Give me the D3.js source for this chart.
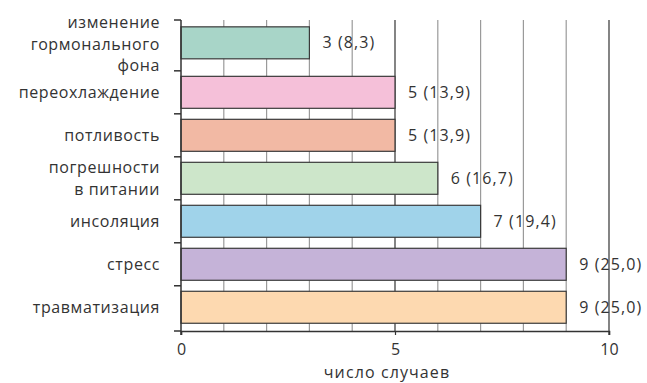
<!DOCTYPE html>
<html>
<head>
<meta charset="utf-8">
<script src="https://cdn.jsdelivr.net/npm/d3@7"></script>
<style>
  body { margin: 0; background: #fff; }
  text { font-family: "Open Sans", sans-serif; fill: #333; }
</style>
</head>
<body>
<script>
// categories from top to bottom
const categories = [
  ['изменение', 'гормонального', 'фона'],
  ['переохлаждение'],
  ['потливость'],
  ['погрешности', 'в питании'],
  ['инсоляция'],
  ['стресс'],
  ['травматизация']
]
const counts = [3, 5, 5, 6, 7, 9, 9]
const percents = ['8,3', '13,9', '13,9', '16,7', '19,4', '25,0', '25,0']
const colors = ['#a8d5c8', '#f5c0d9', '#f2b9a4', '#cde6ca', '#a0d3ea', '#c5b3d8', '#fdd9b0']
const xTicks = [0, 5, 10]
const xTitle = 'число случаев'

const width = 647
const height = 383
const plotTop = 20
const plotBottom = 331
// the top bar sits a bit higher, next to its three-line label
const firstShift = 6.5

const svg = d3.select('body').append('svg')
  .attr('width', width)
  .attr('height', height)

const x = d3.scaleLinear().domain([0, 10]).range([181, 609])
const y = d3.scaleBand()
  .domain(d3.range(categories.length))
  .range([25.6, plotBottom])
  .paddingInner(0.256)
  .paddingOuter(0.18)

const barY = i => y(i) - (i === 0 ? firstShift : 0)
const barMid = i => barY(i) + y.bandwidth() / 2

// grey grid lines
svg.append('g').selectAll('line')
  .data(d3.range(1, 10).filter(v => v !== 5))
  .enter().append('line')
  .attr('x1', d => x(d)).attr('x2', d => x(d))
  .attr('y1', plotTop).attr('y2', plotBottom)
  .attr('stroke', '#9a9a9a')
  .attr('stroke-width', 1.2)

svg.append('line')
  .attr('x1', x(5)).attr('x2', x(5))
  .attr('y1', plotTop).attr('y2', plotBottom)
  .attr('stroke', '#333')
  .attr('stroke-width', 1.2)

// bars
svg.append('g').selectAll('rect')
  .data(counts)
  .enter().append('rect')
  .attr('x', x(0))
  .attr('y', (d, i) => barY(i))
  .attr('width', d => x(d) - x(0))
  .attr('height', y.bandwidth())
  .attr('fill', (d, i) => colors[i])
  .attr('stroke', '#3a3a3a')
  .attr('stroke-width', 1.2)

// right border line at 10
svg.append('line')
  .attr('x1', x(10)).attr('x2', x(10))
  .attr('y1', plotTop).attr('y2', plotBottom + 4)
  .attr('stroke', '#333')
  .attr('stroke-width', 1.2)

// value labels
svg.append('g').selectAll('text')
  .data(counts)
  .enter().append('text')
  .attr('x', d => x(d) + 13)
  .attr('y', (d, i) => barMid(i))
  .attr('dy', '0.35em')
  .attr('font-size', 16)
  .attr('letter-spacing', 1.1)
  .text((d, i) => `${d} (${percents[i]})`)

// left axis with band boundary ticks
const bounds = [plotTop].concat(d3.range(1, categories.length).map(i => y(i) - y.step() * y.paddingInner() / 2), [plotBottom])
svg.append('line')
  .attr('x1', x(0)).attr('x2', x(0))
  .attr('y1', plotTop).attr('y2', plotBottom + 4)
  .attr('stroke', '#333')
  .attr('stroke-width', 1.5)
svg.append('g').selectAll('line')
  .data(bounds)
  .enter().append('line')
  .attr('x1', x(0) - 7).attr('x2', x(0))
  .attr('y1', d => d).attr('y2', d => d)
  .attr('stroke', '#333')
  .attr('stroke-width', 1.5)

// bottom axis
const xAxis = svg.append('g')
  .attr('transform', `translate(0,${plotBottom})`)
  .call(d3.axisBottom(x).tickValues(xTicks).tickSize(4).tickPadding(9))
xAxis.select('.domain').attr('stroke', '#333').attr('stroke-width', 1.5)
xAxis.selectAll('.tick line').attr('stroke', '#333').attr('stroke-width', 1.2)
xAxis.selectAll('.tick text')
  .attr('font-family', '"Open Sans", sans-serif')
  .attr('font-size', 16)
  .attr('fill', '#333')

svg.append('text')
  .attr('x', 387)
  .attr('y', 378)
  .attr('text-anchor', 'middle')
  .attr('font-size', 16)
  .attr('letter-spacing', 1.1)
  .text(xTitle)

// category labels
const cat = svg.append('g').selectAll('text')
  .data(categories)
  .enter().append('text')
  .attr('text-anchor', 'end')
  .attr('font-size', 16)
  .attr('letter-spacing', 0.6)
  .attr('y', (d, i) => barMid(i) + (i === 0 ? 1.5 : 0))

cat.selectAll('tspan')
  .data(d => d)
  .enter().append('tspan')
  .attr('x', 160)
  .attr('dy', (d, j, n) => j === 0 ? `${0.35 - (n.length - 1) * 0.67}em` : '1.34em')
  .text(d => d)
</script>
</body>
</html>
